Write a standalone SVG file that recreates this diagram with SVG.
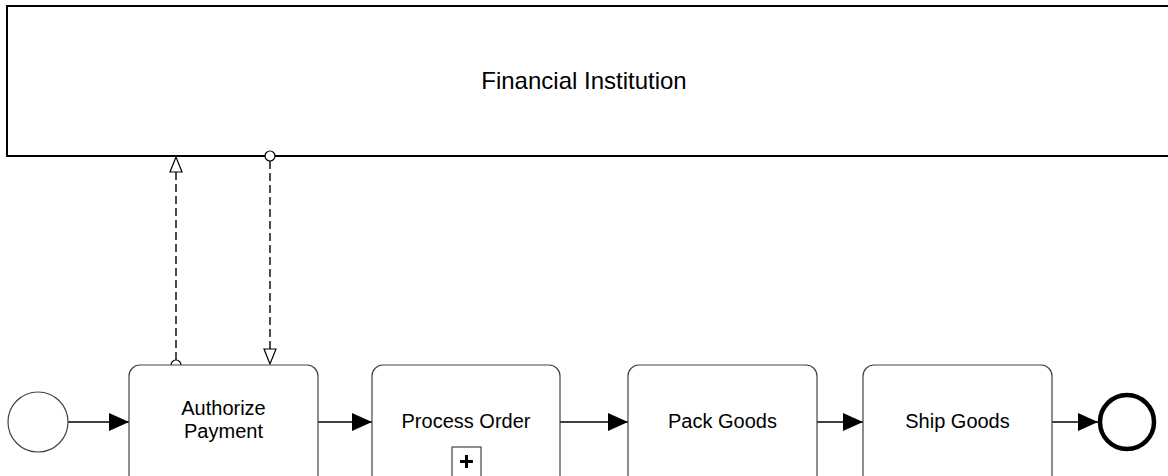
<svg xmlns="http://www.w3.org/2000/svg" width="1168" height="476" viewBox="0 0 1168 476">
  <style>
    .pool { fill: #ffffff; stroke: #000000; stroke-width: 2; }
    .task rect { fill: #ffffff; stroke: #444444; stroke-width: 1.2; }
    .lbl { font-family: "Liberation Sans", Arial, sans-serif; font-size: 20px; fill: #000000; text-anchor: middle; }
    .title { font-family: "Liberation Sans", Arial, sans-serif; font-size: 24px; fill: #000000; text-anchor: middle; }
    .seq { stroke: #000000; stroke-width: 1.6; fill: none; marker-end: url(#filled); }
    .msg { stroke: #000000; stroke-width: 1.4; fill: none; stroke-dasharray: 8 4; }
    .msgcirc { fill: #ffffff; stroke: #000000; stroke-width: 1.2; }
    .open { fill: #ffffff; stroke: #000000; stroke-width: 1.2; }
  </style>
  <defs>
    <marker id="filled" viewBox="0 0 20 18" refX="20" refY="9" markerWidth="20" markerHeight="18" markerUnits="userSpaceOnUse" orient="auto">
      <path d="M0,0 L20,9 L0,18 Z" fill="#000000"/>
    </marker>
  </defs>

  <g id="pool">
    <rect class="pool" x="7" y="6" width="1180" height="150"/>
    <text class="title" x="584" y="89">Financial Institution</text>
  </g>

  <g id="connectors">
    <!-- message flow: task -> pool -->
    <line class="msg" x1="176" y1="360" x2="176" y2="172"/>
    <circle class="msgcirc" cx="176" cy="365" r="5"/>
    <path class="open" d="M176,157 L170,172 L182,172 Z"/>
    <!-- message flow: pool -> task -->
    <line class="msg" x1="270" y1="161" x2="270" y2="350"/>
    <path class="open" d="M270,364 L264,349 L276,349 Z"/>
    <circle class="msgcirc" cx="270" cy="156" r="5"/>
    <!-- sequence flows -->
    <line class="seq" x1="68" y1="422" x2="129" y2="422"/>
    <line class="seq" x1="318" y1="422" x2="372" y2="422"/>
    <line class="seq" x1="560" y1="422" x2="628" y2="422"/>
    <line class="seq" x1="817" y1="422" x2="863" y2="422"/>
    <line class="seq" x1="1052" y1="422" x2="1098" y2="422"/>
  </g>

  <g id="start">
    <circle cx="38" cy="422" r="30" fill="#ffffff" stroke="#444444" stroke-width="1.2"/>
  </g>

  <g id="task-authorize" class="task">
    <rect x="129" y="365" width="189" height="125" rx="11"/>
    <text class="lbl" x="223.5" y="415">Authorize</text>
    <text class="lbl" x="223.5" y="438">Payment</text>
  </g>

  <g id="task-process" class="task">
    <rect x="372" y="365" width="188" height="125" rx="11"/>
    <text class="lbl" x="466" y="428">Process Order</text>
    <rect x="452" y="447" width="29" height="40" fill="#ffffff" stroke="#000000" stroke-width="1.5"/>
    <path d="M466.5,455 V468 M460,461.5 H473" stroke="#000000" stroke-width="3" fill="none"/>
  </g>

  <g id="task-pack" class="task">
    <rect x="628" y="365" width="189" height="125" rx="11"/>
    <text class="lbl" x="722.5" y="428">Pack Goods</text>
  </g>

  <g id="task-ship" class="task">
    <rect x="863" y="365" width="189" height="125" rx="11"/>
    <text class="lbl" x="957.5" y="428">Ship Goods</text>
  </g>

  <g id="end">
    <circle cx="1127" cy="422" r="27" fill="#ffffff" stroke="#000000" stroke-width="4.5"/>
  </g>
</svg>
